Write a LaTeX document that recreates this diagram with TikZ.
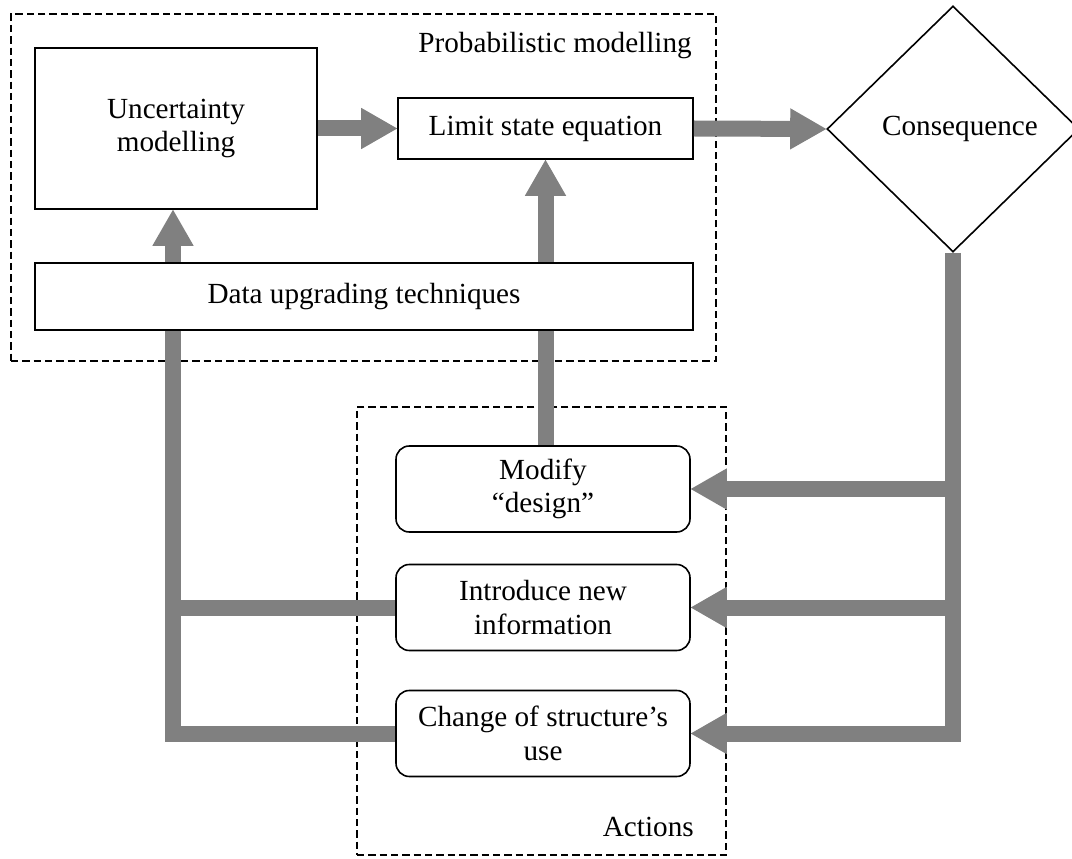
\documentclass[tikz,border=0pt]{standalone}
\usepackage{fontspec}
\setmainfont{Liberation Serif}
\usetikzlibrary{arrows.meta,shapes.geometric}
\definecolor{flowgray}{HTML}{808080}
\begin{document}
\begin{tikzpicture}[x=0.75pt,y=-0.75pt,
  font=\fontsize{21.9}{25}\selectfont,
  box/.style={draw,line width=1.2pt,align=center,inner sep=0pt,fill=white},
  rbox/.style={box,rounded corners=10pt,minimum width=220.5pt,minimum height=64.5pt},
  group/.style={draw,dash pattern=on 5.5pt off 3pt,line width=1pt,inner sep=0pt},
  flow/.style={draw=flowgray,line width=12pt},
  flowarrow/.style={flow,-{Triangle[length=27pt,width=31pt,line width=0pt]}}]
\useasboundingbox (0,0) rectangle (1072,859);
% groups
\node[group,minimum width=528.75pt,minimum height=260.25pt] (pm) at (363.5,187.5) {};
\node[group,minimum width=276.75pt,minimum height=336pt] (act) at (541.5,631) {};
\node[anchor=base east,inner sep=0pt] (pmlabel) at (692,53) {Probabilistic modelling};
\node[anchor=base east,inner sep=0pt] (actlabel) at (694,836) {Actions};
% nodes
\node[box,minimum width=211.5pt,minimum height=120.75pt] (unc) at (176,128.5) {Uncertainty\\modelling};
\node[box,minimum width=221.25pt,minimum height=45.75pt] (lim) at (545.5,128.5) {Limit state equation};
\node[box,minimum width=493.5pt,minimum height=50.25pt] (data) at (364,296.5) {Data upgrading techniques};
\node[draw,line width=1.2pt,shape=diamond,inner sep=0pt,minimum width=189pt,minimum height=184.5pt] (con) at (953,129) {};
\node[inner sep=0pt] (context) at (960,129) {Consequence};
\node[rbox] (mod) at (543,489) {Modify\\“design”};
\node[rbox] (intro) at (543,607.5) {Introduce new\\information};
\node[rbox] (chg) at (543,733.5) {Change of structure’s\\use};
\coordinate (lx) at (173,0);
% flows
\draw[flowarrow] (unc.east) -- (lim.west);
\draw[flowarrow] (lim.east) -- (con.west);
\draw[flowarrow] (lx |- data.north) -- (lx |- unc.south);
\draw[flowarrow] (lim.south |- data.north) -- (lim.south);
\draw[flow] (lim.south |- mod.north) -- (lim.south |- data.south);
\draw[flow] (lx |- data.south) -- (lx |- chg.west) -- (chg.west);
\draw[flow] (intro.west) -- (intro.west -| lx);
\draw[flowarrow] (con.south) -- (con.south |- chg.east) -- (chg.east);
\draw[flowarrow] (con.south |- mod.east) -- (mod.east);
\draw[flowarrow] (con.south |- intro.east) -- (intro.east);
\end{tikzpicture}
\end{document}
